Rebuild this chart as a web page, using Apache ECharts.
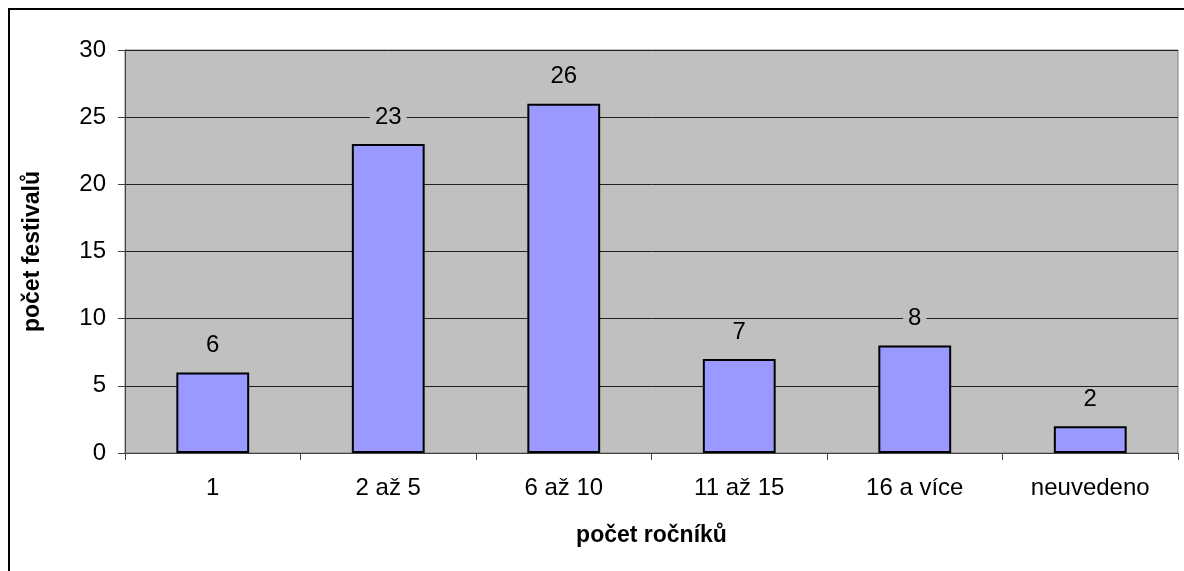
<!DOCTYPE html>
<html>
<head>
<meta charset="utf-8">
<title>počet ročníků</title>
<script src="https://cdn.jsdelivr.net/npm/echarts@6.0.0/dist/echarts.min.js"></script>
<style>
  html, body { margin: 0; padding: 0; background: #fff; }
  #frame { position: absolute; left: 8px; top: 8px; width: 1190px; height: 580px; border: 2px solid #000; }
  #chart { position: absolute; left: 0; top: 0; width: 1184px; height: 571px; }
</style>
</head>
<body>
<div id="frame"></div>
<div id="chart"></div>
<script>
var categories = ['1', '2 až 5', '6 až 10', '11 až 15', '16 a více', 'neuvedeno'];
var values = [6, 23, 26, 7, 8, 2];
var yTicks = [0, 5, 10, 15, 20, 25, 30];

var chart = echarts.init(document.getElementById('chart'));
chart.setOption({
    animation: false,
    textStyle: { fontFamily: 'Liberation Sans, Arial, sans-serif' },
    grid: {
        left: 125, top: 50, right: 6, bottom: 118,
        show: true, backgroundColor: '#C0C0C0', borderColor: '#808080', borderWidth: 1
    },
    xAxis: {
        type: 'category',
        data: categories,
        name: 'počet ročníků',
        nameLocation: 'middle',
        nameGap: 71,
        nameTextStyle: { fontSize: 23, fontWeight: 'bold', color: '#000' },
        axisLine: { lineStyle: { color: '#404040', width: 1 } },
        axisTick: { show: true, length: 7, lineStyle: { color: '#404040' } },
        axisLabel: { fontSize: 24, color: '#000', margin: 23 }
    },
    yAxis: {
        type: 'value',
        min: yTicks[0],
        max: yTicks[yTicks.length - 1],
        interval: 5,
        name: 'počet festivalů',
        nameLocation: 'middle',
        nameGap: 81,
        nameTextStyle: { fontSize: 23, fontWeight: 'bold', color: '#000' },
        axisLine: { show: true, lineStyle: { color: '#404040', width: 1 } },
        axisTick: { show: true, length: 7, lineStyle: { color: '#404040' } },
        axisLabel: { fontSize: 24, color: '#000', margin: 19 },
        splitLine: { lineStyle: { color: '#202020', width: 1 } }
    },
    series: [{
        type: 'bar',
        data: values,
        barWidth: '41.5%',
        itemStyle: { color: '#9999FF', borderColor: '#000', borderWidth: 2 },
        label: {
            show: true,
            position: 'top',
            distance: 15,
            fontSize: 24,
            color: '#000',
            backgroundColor: '#C0C0C0',
            padding: [0, 5]
        }
    }]
});
</script>
</body>
</html>
